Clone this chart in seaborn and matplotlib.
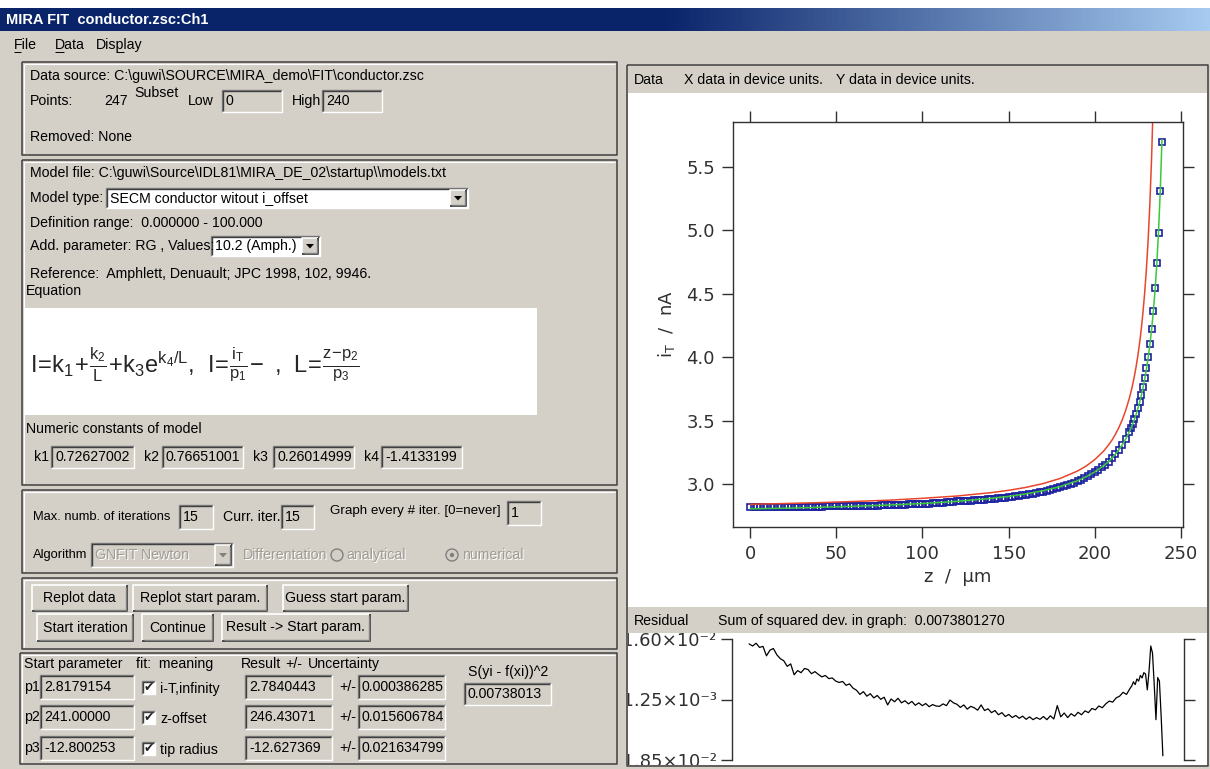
import numpy as np
import matplotlib
matplotlib.use("Agg")
import matplotlib.pyplot as plt
from matplotlib.patches import Rectangle, Polygon, Circle
from matplotlib.colors import LinearSegmentedColormap
from matplotlib.transforms import Bbox, TransformedBbox
import seaborn as sns

W, H, DPI = 1210, 769, 100

# ---- data ----
# measured tip current (blue squares), z in um, i in nA
z_data = np.concatenate([np.arange(0, 221, 2), np.arange(221, 240)])
i_data = [2.820, 2.819, 2.820, 2.819, 2.819, 2.818, 2.819, 2.818, 2.818, 2.819,
          2.819, 2.819, 2.818, 2.819, 2.820, 2.820, 2.821, 2.821, 2.822, 2.822,
          2.823, 2.823, 2.824, 2.824, 2.824, 2.825, 2.825, 2.826, 2.826, 2.826,
          2.827, 2.827, 2.828, 2.828, 2.829, 2.830, 2.830, 2.831, 2.832, 2.832,
          2.834, 2.834, 2.835, 2.836, 2.837, 2.839, 2.840, 2.841, 2.842, 2.843,
          2.844, 2.846, 2.847, 2.849, 2.851, 2.853, 2.855, 2.857, 2.859, 2.861,
          2.863, 2.864, 2.866, 2.868, 2.870, 2.872, 2.874, 2.876, 2.878, 2.880,
          2.883, 2.885, 2.888, 2.891, 2.894, 2.897, 2.901, 2.904, 2.908, 2.912,
          2.916, 2.921, 2.925, 2.930, 2.936, 2.941, 2.947, 2.954, 2.961, 2.968,
          2.976, 2.984, 2.993, 3.002, 3.012, 3.022, 3.035, 3.048, 3.062, 3.076,
          3.092, 3.112, 3.132, 3.153, 3.177, 3.204, 3.235, 3.269, 3.308, 3.355, 3.410,
          3.442, 3.477, 3.513, 3.553, 3.598, 3.648, 3.703, 3.764, 3.834, 3.912,
          4.002, 4.106, 4.223, 4.363, 4.545, 4.740, 4.982, 5.311, 5.697]

# fitted curve (green)
z_fit = [0, 20, 40, 60, 80, 100, 120, 140, 150, 160, 170, 180, 190, 195, 200, 205,
         208, 210, 212, 214, 216, 218, 220, 221, 222, 223, 224, 225, 226, 227, 228,
         229, 230, 231, 232, 233, 234, 235, 236, 237, 238, 239]
i_fit = [2.805, 2.810, 2.817, 2.825, 2.835, 2.847, 2.864, 2.888, 2.903, 2.923, 2.948,
         2.981, 3.027, 3.058, 3.096, 3.143, 3.178, 3.205, 3.236, 3.271, 3.310, 3.356,
         3.410, 3.441, 3.474, 3.510, 3.550, 3.594, 3.643, 3.698, 3.759, 3.828, 3.906,
         3.996, 4.100, 4.220, 4.362, 4.531, 4.736, 4.989, 5.306, 5.714]

# curve of the start parameters (red)
z_start = [0, 20, 40, 60, 80, 100, 120, 140, 150, 160, 170, 180, 190, 195, 200, 205,
           208, 210, 212, 214, 216, 218, 220, 221, 222, 223, 224, 225, 226, 227, 228,
           229, 230, 231, 232, 233, 234]
i_start = [2.841, 2.847, 2.854, 2.863, 2.873, 2.888, 2.906, 2.933, 2.951, 2.974, 3.004,
           3.045, 3.103, 3.142, 3.193, 3.258, 3.308, 3.347, 3.393, 3.446, 3.508, 3.583,
           3.673, 3.726, 3.785, 3.851, 3.926, 4.011, 4.109, 4.223, 4.356, 4.513, 4.702,
           4.931, 5.217, 5.579, 6.052]

# residual, in units of 1e-3 nA, same z as the data
res_e3 = [14.6, 14.0, 14.8, 13.6, 13.9, 11.2, 12.8, 13.3, 11.5, 10.4,
          9.8, 8.2, 8.9, 5.8, 7.0, 6.4, 7.6, 7.3, 6.1, 6.7,
          5.9, 5.2, 5.6, 4.7, 4.9, 4.0, 3.6, 3.9, 2.8, 3.2,
          2.0, 1.4, 0.2, 1.0, -0.3, 0.4, -0.8, -0.1, -1.2, -0.6,
          -2.8, -1.1, -1.9, -0.9, -2.2, -1.6, -2.5, -1.8, -2.9, -2.2,
          -3.0, -2.4, -3.3, -2.7, -3.1, -3.2, -2.5, -3.0, -1.4, -2.2,
          -2.6, -3.5, -2.8, -4.0, -3.2, -3.6, -4.3, -2.8, -4.4, -3.9,
          -5.0, -4.4, -5.6, -5.0, -6.1, -5.5, -6.4, -5.8, -6.6, -6.0,
          -6.9, -6.2, -7.0, -6.4, -6.9, -6.1, -7.0, -5.9, -6.8, -3.0,
          -6.2, -5.1, -6.4, -5.3, -6.0, -4.9, -5.6, -4.5, -5.0, -3.8,
          -4.2, -3.1, -3.6, -2.5, -1.7, -2.0, -0.8, -0.3, 0.8, 0.2, 1.9,
          2.6, 3.8, 3.0, 4.6, 4.0, 5.6, 4.9, 6.4, 6.0, 1.5,
          6.8, 14.0, 12.0, 3.0, -7.0, 5.0, 4.0, -6.0, -17.3]

x_ticks = [0, 50, 100, 150, 200, 250]
y_ticks = [3.0, 3.5, 4.0, 4.5, 5.0, 5.5]
res_ticks = [0.016, -0.00125, -0.0185]
res_labels = ['1.60×10⁻²', '-1.25×10⁻³', '-1.85×10⁻²']

k_vals = ['0.72627002', '0.76651001', '0.26014999', '-1.4133199']
p_names = ['p1', 'p2', 'p3']
p_start = ['2.8179154', '241.00000', '-12.800253']
p_meaning = ['i-T,infinity', 'z-offset', 'tip radius']
p_result = ['2.7840443', '246.43071', '-12.627369']
p_uncert = ['0.000386285', '0.015606784', '0.021634799']

BG = '#D4D0C8'
DARK = '#404040'
SHADOW = '#808080'
GRAYTXT = '#A09C94'
AXC = '#303030'
BLUE = '#1c22a0'
GREEN = '#3cc83c'
RED = '#e8462c'
FS = 10.2

sns.set_style("white")
plt.rcParams['font.family'] = ['Liberation Sans', 'DejaVu Sans']
plt.rcParams['mathtext.fontset'] = 'dejavusans'
plt.rcParams['mathtext.default'] = 'regular'

fig = plt.figure(figsize=(W / DPI, H / DPI), dpi=DPI)
fig.patch.set_facecolor(BG)
gui = fig.add_axes([0, 0, 1, 1])
gui.set_autoscale_on(False)
gui.set_xlim(0, W)
gui.set_ylim(H, 0)
gui.axis('off')


def box_axes(x0, y0, x1, y1):
    return fig.add_axes([x0 / W, 1 - y1 / H, (x1 - x0) / W, (y1 - y0) / H])


def fill(x0, y0, x1, y1, fc, z=2):
    gui.add_patch(Rectangle((x0, y0), x1 - x0, y1 - y0, fc=fc, ec='none', zorder=z))


def seg(xs, ys, c, lw=1.0, z=3):
    gui.plot(xs, ys, color=c, lw=lw, solid_capstyle='butt', zorder=z)


def label(x, y, s, color='black', ha='left', size=FS, **kw):
    gui.text(x, y, s, color=color, ha=ha, va='center', fontsize=size, zorder=5, **kw)


def grey_label(x, y, s, size=FS):
    label(x + 1, y + 1, s, color='white', size=size)
    label(x, y, s, color=GRAYTXT, size=size)


def group(x0, y0, x1, y1):
    seg([x0, x1, x1, x0, x0], [y0, y0, y1, y1, y0], DARK, 1.1)
    seg([x0 + 1.6, x1 - 1.6], [y0 + 1.6, y0 + 1.6], 'white', 0.8)
    seg([x0 + 1.6, x0 + 1.6], [y0 + 1.6, y1 - 1.6], 'white', 0.8)


def field(x0, y0, x1, y1, text=None, fc=BG, tc='black'):
    fill(x0, y0, x1, y1, fc)
    seg([x0, x0, x1], [y1, y0, y0], SHADOW, 1.0)
    seg([x0 + 1.3, x0 + 1.3, x1 - 1], [y1 - 1, y0 + 1.3, y0 + 1.3], DARK, 1.0)
    seg([x0, x1, x1], [y1, y1, y0], 'white', 1.0)
    if text is not None:
        label(x0 + 4, (y0 + y1) / 2, text, color=tc)


def raised(x0, y0, x1, y1):
    fill(x0, y0, x1, y1, BG)
    seg([x0, x0, x1], [y1, y0, y0], 'white', 1.2)
    seg([x0, x1, x1], [y1, y1, y0], DARK, 1.3)
    seg([x0 + 1.5, x1 - 1.5, x1 - 1.5], [y1 - 1.5, y1 - 1.5, y0 + 1.5], SHADOW, 1.0)


def button(x0, y0, x1, y1, text):
    raised(x0, y0, x1, y1)
    label((x0 + x1) / 2, (y0 + y1) / 2, text, ha='center')


def combo(x0, y0, x1, y1, text, disabled=False):
    field(x0, y0, x1, y1, fc=BG if disabled else 'white')
    raised(x1 - 18, y0 + 2, x1 - 2, y1 - 2)
    cx, cy = x1 - 10, (y0 + y1) / 2
    tri = Polygon([[cx - 4, cy - 2], [cx + 4, cy - 2], [cx, cy + 2.5]], closed=True,
                  fc=SHADOW if disabled else 'black', ec='none', zorder=6)
    gui.add_patch(tri)
    if disabled:
        grey_label(x0 + 4, (y0 + y1) / 2, text)
    else:
        label(x0 + 4, (y0 + y1) / 2, text)


def checkbox(x, y):
    field(x, y - 6.5, x + 13, y + 6.5, fc='white')
    gui.text(x + 6.5, y + 0.5, '✔', ha='center', va='center', fontsize=9,
             family='DejaVu Sans', zorder=6)


def radio(x, y, on=False):
    gui.add_patch(Circle((x, y), 6, fc=BG, ec=SHADOW, lw=1.0, zorder=4))
    if on:
        gui.add_patch(Circle((x, y), 2.2, fc=SHADOW, ec='none', zorder=5))


# ---- window chrome ----
fill(0, 0, W, 8, 'white')
tb = LinearSegmentedColormap.from_list('tb', [(0, '#0A246A'), (0.55, '#0A246A'), (1, '#A6CAF0')])
gui.imshow(np.linspace(0, 1, 256)[None, :], extent=(0, W, 31, 8), aspect='auto', cmap=tb, zorder=1)
gui.set_xlim(0, W)
gui.set_ylim(H, 0)
label(6, 20, 'MIRA FIT  conductor.zsc:Ch1', color='white', size=10.5, fontweight='bold')
for mx, name, ux in [(14, 'File', (14, 21)), (55, 'Data', (55, 64)), (96, 'Display', (116, 124))]:
    label(mx, 45, name)
    seg([ux[0], ux[1]], [52, 52], 'black', 0.7)

# ---- left side ----
group(22, 62, 617, 155)
label(30, 76, r'Data source: C:\guwi\SOURCE\MIRA_demo\FIT\conductor.zsc')
label(30, 101, 'Points:')
label(128, 101, '247', ha='right')
label(134, 93, 'Subset')
label(188, 101, 'Low')
field(222, 90, 282, 112, '0')
label(292, 101, 'High')
field(322, 90, 382, 112, '240')
label(30, 137, 'Removed: None')

group(22, 160, 617, 485)
label(30, 173, r'Model file: C:\guwi\Source\IDL81\MIRA_DE_02\startup\\models.txt')
label(30, 198, 'Model type:')
combo(106, 188, 468, 208, 'SECM conductor witout i_offset')
label(30, 223, 'Definition range:  0.000000 - 100.000')
label(30, 246, 'Add. parameter: RG , Values:')
combo(211, 236, 320, 256, '10.2 (Amph.)')
label(30, 274, 'Reference:  Amphlett, Denuault; JPC 1998, 102, 9946.')
label(26, 291, 'Equation')
fill(25, 308, 537, 415, 'white')
gui.text(30, 364, r'$I\!=\!k_1\!+\!\frac{k_2}{L}\!+\!k_3e^{k_4/L}$,  '
         r'$I\!=\!\frac{i_T}{p_1}\!-$ ,  $L\!=\!\frac{z\!-\!p_2}{p_3}$',
         fontsize=17, va='center', ha='left', zorder=5)
label(26, 429, 'Numeric constants of model')
for kx, fx0, fx1, kv, nm in zip([34, 144, 253, 364], [51, 162, 273, 381],
                                [134, 243, 354, 462], k_vals, ['k1', 'k2', 'k3', 'k4']):
    label(kx, 457, nm)
    field(fx0, 446, fx1, 468, kv)

group(22, 490, 617, 573)
label(33, 517, 'Max. numb. of iterations', size=9.3)
field(179, 505, 213, 529, '15')
label(223, 517, 'Curr. iter.')
field(281, 505, 314, 529, '15')
label(330, 511, 'Graph every # iter. [0=never]', size=9.6)
field(507, 501, 541, 525, '1')
label(33, 555, 'Algorithm', size=9.3)
combo(91, 543, 233, 567, 'GNFIT Newton', disabled=True)
grey_label(243, 555, 'Differentation')
radio(337, 555)
grey_label(346, 555, 'analytical')
radio(452, 555, on=True)
grey_label(462, 555, 'numerical')

group(22, 578, 617, 649)
for bx0, bx1, by0, by1, txt in [(32, 127, 585, 611, 'Replot data'),
                                (133, 267, 585, 611, 'Replot start param.'),
                                (283, 408, 585, 611, 'Guess start param.'),
                                (37, 133, 614, 641, 'Start iteration'),
                                (142, 213, 614, 641, 'Continue'),
                                (222, 370, 614, 641, 'Result -> Start param.')]:
    button(bx0, by0, bx1, by1, txt)

group(20, 653, 617, 764)
label(24, 664, 'Start parameter')
label(136, 664, 'fit:  meaning')
label(241, 664, 'Result')
label(285, 664, '+/-')
label(308, 664, 'Uncertainty')
label(468, 672, 'S(yi - f(xi))^2')
field(464, 683, 551, 705, '0.00738013')
for ry, nm, sv, mn, rv, uv in zip([687, 717, 748], p_names, p_start, p_meaning, p_result, p_uncert):
    label(24, ry, nm)
    field(40, ry - 12, 134, ry + 12, sv)
    checkbox(142, ry)
    label(160, ry + 2, mn)
    field(245, ry - 12, 332, ry + 12, rv)
    label(339, ry, '+/-')
    field(358, ry - 12, 445, ry + 12, uv)

# ---- right side panel ----
seg([627, 1208, 1208, 627, 627], [65, 65, 766, 766, 65], DARK, 1.1)
fill(628, 93, 1207, 607, 'white')
fill(628, 633, 1207, 765, 'white')
label(634, 80, 'Data')
label(684, 80, 'X data in device units.')
label(836, 80, 'Y data in device units.')
label(634, 621, 'Residual')
label(718, 621, 'Sum of squared dev. in graph:  0.0073801270')

XLIM = (-9.9, 251.2)

# main data plot
ax = box_axes(733, 122, 1183, 527)
ax.set_facecolor('white')
sns.lineplot(x=z_data, y=i_data, ax=ax, estimator=None, sort=False, color=BLUE,
             marker='s', linestyle='', markersize=5.0, markerfacecolor='none',
             markeredgecolor=BLUE, markeredgewidth=1.2)
sns.lineplot(x=z_fit, y=i_fit, ax=ax, estimator=None, sort=False, color=GREEN, lw=1.1)
sns.lineplot(x=z_start, y=i_start, ax=ax, estimator=None, sort=False, color=RED, lw=1.1)
ax.set_xlim(*XLIM)
ax.set_ylim(2.662, 5.853)
ax.set_xticks(x_ticks, [str(v) for v in x_ticks], family='DejaVu Sans')
ax.set_yticks(y_ticks, [f'{v:.1f}' for v in y_ticks], family='DejaVu Sans')
ax.tick_params(direction='out', length=8, width=1.0, color=AXC, labelsize=13,
               labelcolor=AXC, top=True, right=True, bottom=True, left=True,
               labeltop=False, labelright=False, pad=5)
for sp in ax.spines.values():
    sp.set_visible(True)
    sp.set_color(AXC)
    sp.set_linewidth(1.0)
ax.set_xlabel('z  /  μm', fontsize=13, color=AXC, family='DejaVu Sans')
ax.set_ylabel('i$_T$  /  nA', fontsize=13, color=AXC, family='DejaVu Sans')
ax.xaxis.set_label_coords(0.5, -0.10)
ax.yaxis.set_label_coords(-0.125, 0.5)

# residual plot
rax = box_axes(732, 639, 1184, 760)
rax.set_facecolor('none')
res = np.array(res_e3) * 1e-3
sns.lineplot(x=z_data, y=res, ax=rax, estimator=None, sort=False, color='black', lw=0.9)
rax.set_xlim(*XLIM)
rax.set_ylim(-0.0185, 0.016)
rax.set_xticks([])
rax.set_yticks(res_ticks, res_labels, family='DejaVu Sans')
rax.tick_params(axis='y', direction='out', length=8, width=1.0, color=AXC, labelsize=13,
                labelcolor=AXC, left=True, right=True, labelright=False, pad=3)
rax.spines['top'].set_visible(False)
rax.spines['bottom'].set_visible(False)
for s in ('left', 'right'):
    rax.spines[s].set_visible(True)
    rax.spines[s].set_color(AXC)
    rax.spines[s].set_linewidth(1.0)
rax.set_xlabel('')
rax.set_ylabel('')
clip = TransformedBbox(Bbox.from_extents(628 / W, 1 - 765 / H, 1207 / W, 1 - 633 / H), fig.transFigure)
for lab in rax.get_yticklabels():
    lab.set_clip_on(True)
    lab.set_clip_box(clip)

fig.savefig('out.png', dpi=DPI, facecolor=fig.get_facecolor())
